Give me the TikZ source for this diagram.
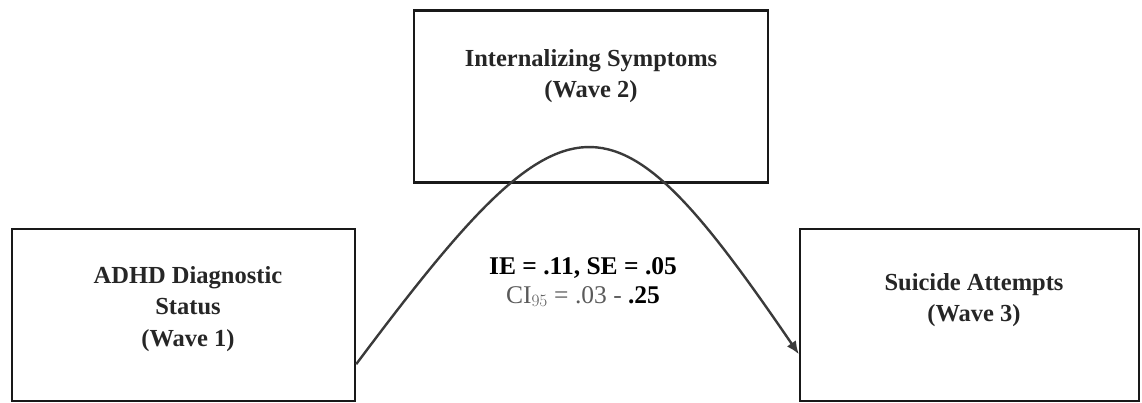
\documentclass[tikz,border=0pt]{standalone}
\usepackage{fontspec}
\setmainfont{Liberation Serif}
\usepackage{xcolor}
\usetikzlibrary{arrows.meta}

\definecolor{edgegray}{HTML}{3A3A3A}
\definecolor{cigray}{HTML}{5A5A5A}

\begin{document}
\begin{tikzpicture}[x=1pt,y=-1pt,
  varbox/.style={draw=black!90,line width=2.4pt,minimum width=#1,minimum height=172pt,inner sep=0pt},
  varlab/.style={align=center,font=\fontsize{24.5}{31.5}\selectfont\bfseries,text=black!85},
  path/.style={draw=edgegray,line width=2.4pt,-{Latex[length=13pt,width=11pt]}}]
\useasboundingbox (0,0) rectangle (1142,403);
% variables
\node[varbox=343pt] (adhd) at (183.5,315) {};
\node[varbox=354pt] (intern) at (591,96.5) {};
\node[varbox=339pt] (suicide) at (969.5,315) {};
\node[varlab] (adhdlab) at (188,309) {ADHD Diagnostic\\Status\\(Wave 1)};
\node[varlab] (internlab) at (591,76) {Internalizing Symptoms\\(Wave 2)};
\node[varlab] (suicidelab) at (974,300) {Suicide Attempts\\(Wave 3)};
% indirect effect
\coordinate (from) at ([yshift=38pt]adhd.south east);
\coordinate (to) at ([yshift=48pt]suicide.south west);
\draw[path] (from) .. controls (570,78) and (610,78) .. (to);
\node[align=center,font=\fontsize{25.5}{29}\selectfont] (ie) at (583,282)
  {\textbf{IE = .11, SE = .05}\\\textcolor{cigray}{CI$_{95}$ = .03 - }\textbf{.25}};
\end{tikzpicture}
\end{document}
